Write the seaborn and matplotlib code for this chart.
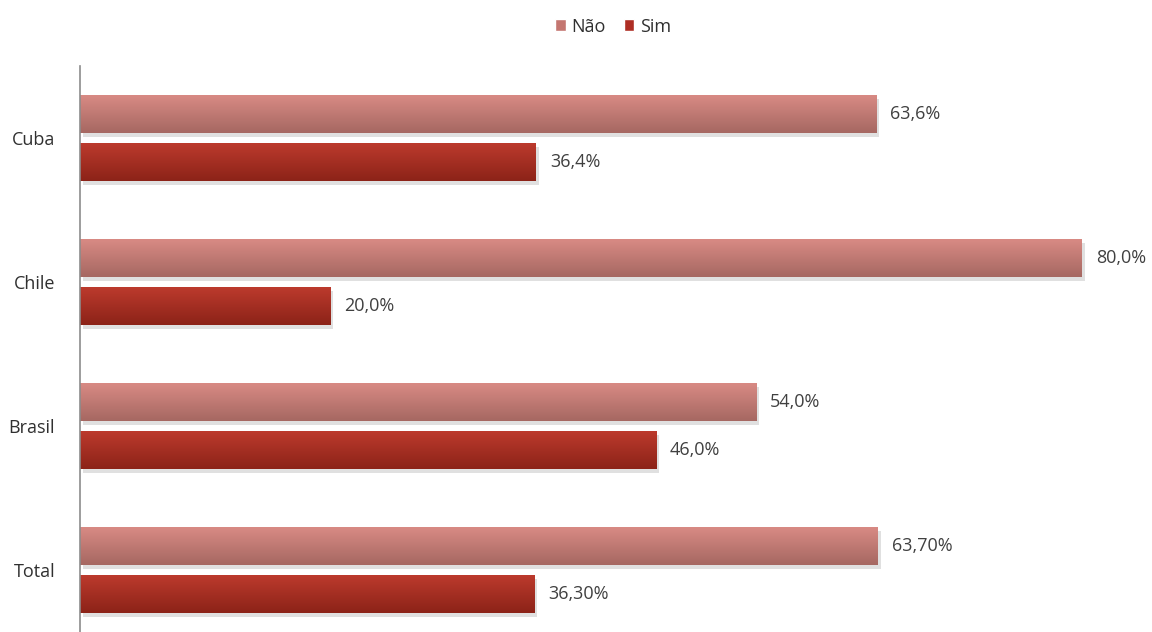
import numpy as np
import pandas as pd
import matplotlib
matplotlib.use("Agg")
import matplotlib.pyplot as plt
import matplotlib.patheffects as pe
from matplotlib.colors import LinearSegmentedColormap
import seaborn as sns

# data
paises = ["Cuba", "Chile", "Brasil", "Total"]
nao = [63.6, 80.0, 54.0, 63.7]
sim = [36.4, 20.0, 46.0, 36.3]
rotulos_nao = ["63,6%", "80,0%", "54,0%", "63,70%"]
rotulos_sim = ["36,4%", "20,0%", "46,0%", "36,30%"]

df = pd.DataFrame({
    "pais": paises * 2,
    "valor": nao + sim,
    "resposta": ["Não"] * len(paises) + ["Sim"] * len(paises),
})

sns.set_style("white")
plt.rcParams["font.family"] = ["Open Sans", "DejaVu Sans"]

# gradient ends (top, bottom) per series
grad = {
    "Não": ("#D88A84", "#A66862"),
    "Sim": ("#BC3A2D", "#8C2318"),
}
palette = {"Não": "#C47670", "Sim": "#AE2E24"}

fig = plt.figure(figsize=(11.52, 6.32), dpi=100)
ax = fig.add_axes([80 / 1152, 0, 1 - 80 / 1152, 1 - 66 / 632])

sns.barplot(data=df, x="valor", y="pais", hue="resposta", orient="h",
            palette=palette, width=0.667, gap=0.21, ax=ax, saturation=1)

handles, labels = ax.get_legend_handles_labels()
ax.get_legend().remove()

xlim = (0, 1072 / 12.525)
ylim = (3.43, -0.5)

# paint each bar with a vertical gradient and a soft shadow
n = len(paises)
for i, bar in enumerate(ax.patches[:2 * n]):
    serie = "Não" if i < n else "Sim"
    top, bottom = grad[serie]
    cmap = LinearSegmentedColormap.from_list(serie, [top, bottom])
    x, y = bar.get_x(), bar.get_y()
    w, h = bar.get_width(), bar.get_height()
    bar.set_edgecolor("none")
    bar.set_path_effects([pe.SimplePatchShadow(offset=(2, -3), shadow_rgbFace="#000000",
                                               alpha=0.12), pe.Normal()])
    img = ax.imshow(np.linspace(0, 1, 64).reshape(-1, 1), cmap=cmap, aspect="auto",
                    extent=[x, x + w, y + h, y], origin="upper", zorder=bar.get_zorder() + 0.1)
    img.set_clip_path(bar)

ax.set_xlim(*xlim)
ax.set_ylim(*ylim)

for cont, labs in zip(ax.containers, [rotulos_nao, rotulos_sim]):
    texts = ax.bar_label(cont, labels=labs, padding=10, fontsize=13, color="#404040")
    for t in texts:
        t.set_y(t.get_position()[1])
        t.set_va("center")

ax.set_xlabel("")
ax.set_ylabel("")
ax.set_xticks([])
ax.tick_params(axis="y", length=0, pad=18, labelsize=13, labelcolor="#303030")
for s in ["top", "right", "bottom"]:
    ax.spines[s].set_visible(False)
ax.spines["left"].set_color("#8C8C8C")
ax.spines["left"].set_linewidth(1.2)

fig.legend(handles, labels, loc="upper center", bbox_to_anchor=(0.532, 0.998), ncol=2,
           frameon=False, fontsize=13, handlelength=0.6, handleheight=0.6,
           handletextpad=0.3, columnspacing=1.0, labelcolor="#303030")

fig.savefig("out.png", dpi=100)
